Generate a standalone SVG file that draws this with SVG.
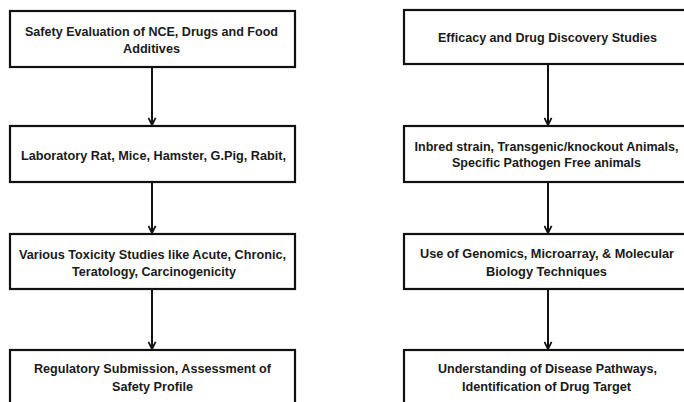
<svg xmlns="http://www.w3.org/2000/svg" width="684" height="402" viewBox="0 0 684 402">
<style>
.box{fill:#fff;stroke:#111;stroke-width:2.2}
.t{font-family:"Liberation Sans",Arial,sans-serif;font-weight:bold;font-size:13.6px;fill:#1a1a1a;text-anchor:middle}
.c{stroke:#111;stroke-width:2;fill:none}
</style>
<defs>
<marker id="ah" viewBox="0 0 10 10" refX="9" refY="5" markerWidth="9" markerHeight="9" markerUnits="userSpaceOnUse" orient="auto">
<path d="M1,1 L9,5 L1,9" fill="none" stroke="#111" stroke-width="2"/>
</marker>
</defs>
<rect width="684" height="402" fill="#fff"/>
<g id="connectors">
<line class="c" x1="152" y1="68" x2="152" y2="125" marker-end="url(#ah)"/>
<line class="c" x1="152" y1="183" x2="152" y2="233" marker-end="url(#ah)"/>
<line class="c" x1="152" y1="290" x2="152" y2="349" marker-end="url(#ah)"/>
<line class="c" x1="548" y1="65" x2="548" y2="125" marker-end="url(#ah)"/>
<line class="c" x1="548" y1="183" x2="548" y2="233" marker-end="url(#ah)"/>
<line class="c" x1="548" y1="290" x2="548" y2="349" marker-end="url(#ah)"/>
</g>
<g id="L1">
<rect class="box" x="10" y="11" width="285" height="56"/>
<text class="t" x="151.5" y="36" textLength="253" lengthAdjust="spacingAndGlyphs">Safety Evaluation of NCE, Drugs and Food</text>
<text class="t" x="151.5" y="53" textLength="57" lengthAdjust="spacingAndGlyphs">Additives</text>
</g>
<g id="L2">
<rect class="box" x="10" y="126" width="285" height="56"/>
<text class="t" x="153.5" y="160" textLength="265" lengthAdjust="spacingAndGlyphs">Laboratory Rat, Mice, Hamster, G.Pig, Rabit,</text>
</g>
<g id="L3">
<rect class="box" x="10" y="234" width="285" height="55"/>
<text class="t" x="152.5" y="259" textLength="267" lengthAdjust="spacingAndGlyphs">Various Toxicity Studies like Acute, Chronic,</text>
<text class="t" x="154" y="276" textLength="164" lengthAdjust="spacingAndGlyphs">Teratology, Carcinogenicity</text>
</g>
<g id="L4">
<rect class="box" x="10" y="350" width="285" height="60"/>
<text class="t" x="152.5" y="373" textLength="237" lengthAdjust="spacingAndGlyphs">Regulatory Submission, Assessment of</text>
<text class="t" x="152.5" y="391" textLength="81" lengthAdjust="spacingAndGlyphs">Safety Profile</text>
</g>
<g id="R1">
<rect class="box" x="404" y="10" width="300" height="54"/>
<text class="t" x="547.5" y="42" textLength="219" lengthAdjust="spacingAndGlyphs">Efficacy and Drug Discovery Studies</text>
</g>
<g id="R2">
<rect class="box" x="404" y="126" width="300" height="56"/>
<text class="t" x="546.5" y="151" textLength="264" lengthAdjust="spacingAndGlyphs">Inbred strain, Transgenic/knockout Animals,</text>
<text class="t" x="546.5" y="167" textLength="189" lengthAdjust="spacingAndGlyphs">Specific Pathogen Free animals</text>
</g>
<g id="R3">
<rect class="box" x="404" y="234" width="300" height="55"/>
<text class="t" x="547" y="258" textLength="254" lengthAdjust="spacingAndGlyphs">Use of Genomics, Microarray, &amp; Molecular</text>
<text class="t" x="546.5" y="276" textLength="121" lengthAdjust="spacingAndGlyphs">Biology Techniques</text>
</g>
<g id="R4">
<rect class="box" x="404" y="350" width="300" height="60"/>
<text class="t" x="547.5" y="373" textLength="219" lengthAdjust="spacingAndGlyphs">Understanding of Disease Pathways,</text>
<text class="t" x="546.5" y="391" textLength="169" lengthAdjust="spacingAndGlyphs">Identification of Drug Target</text>
</g>
</svg>
